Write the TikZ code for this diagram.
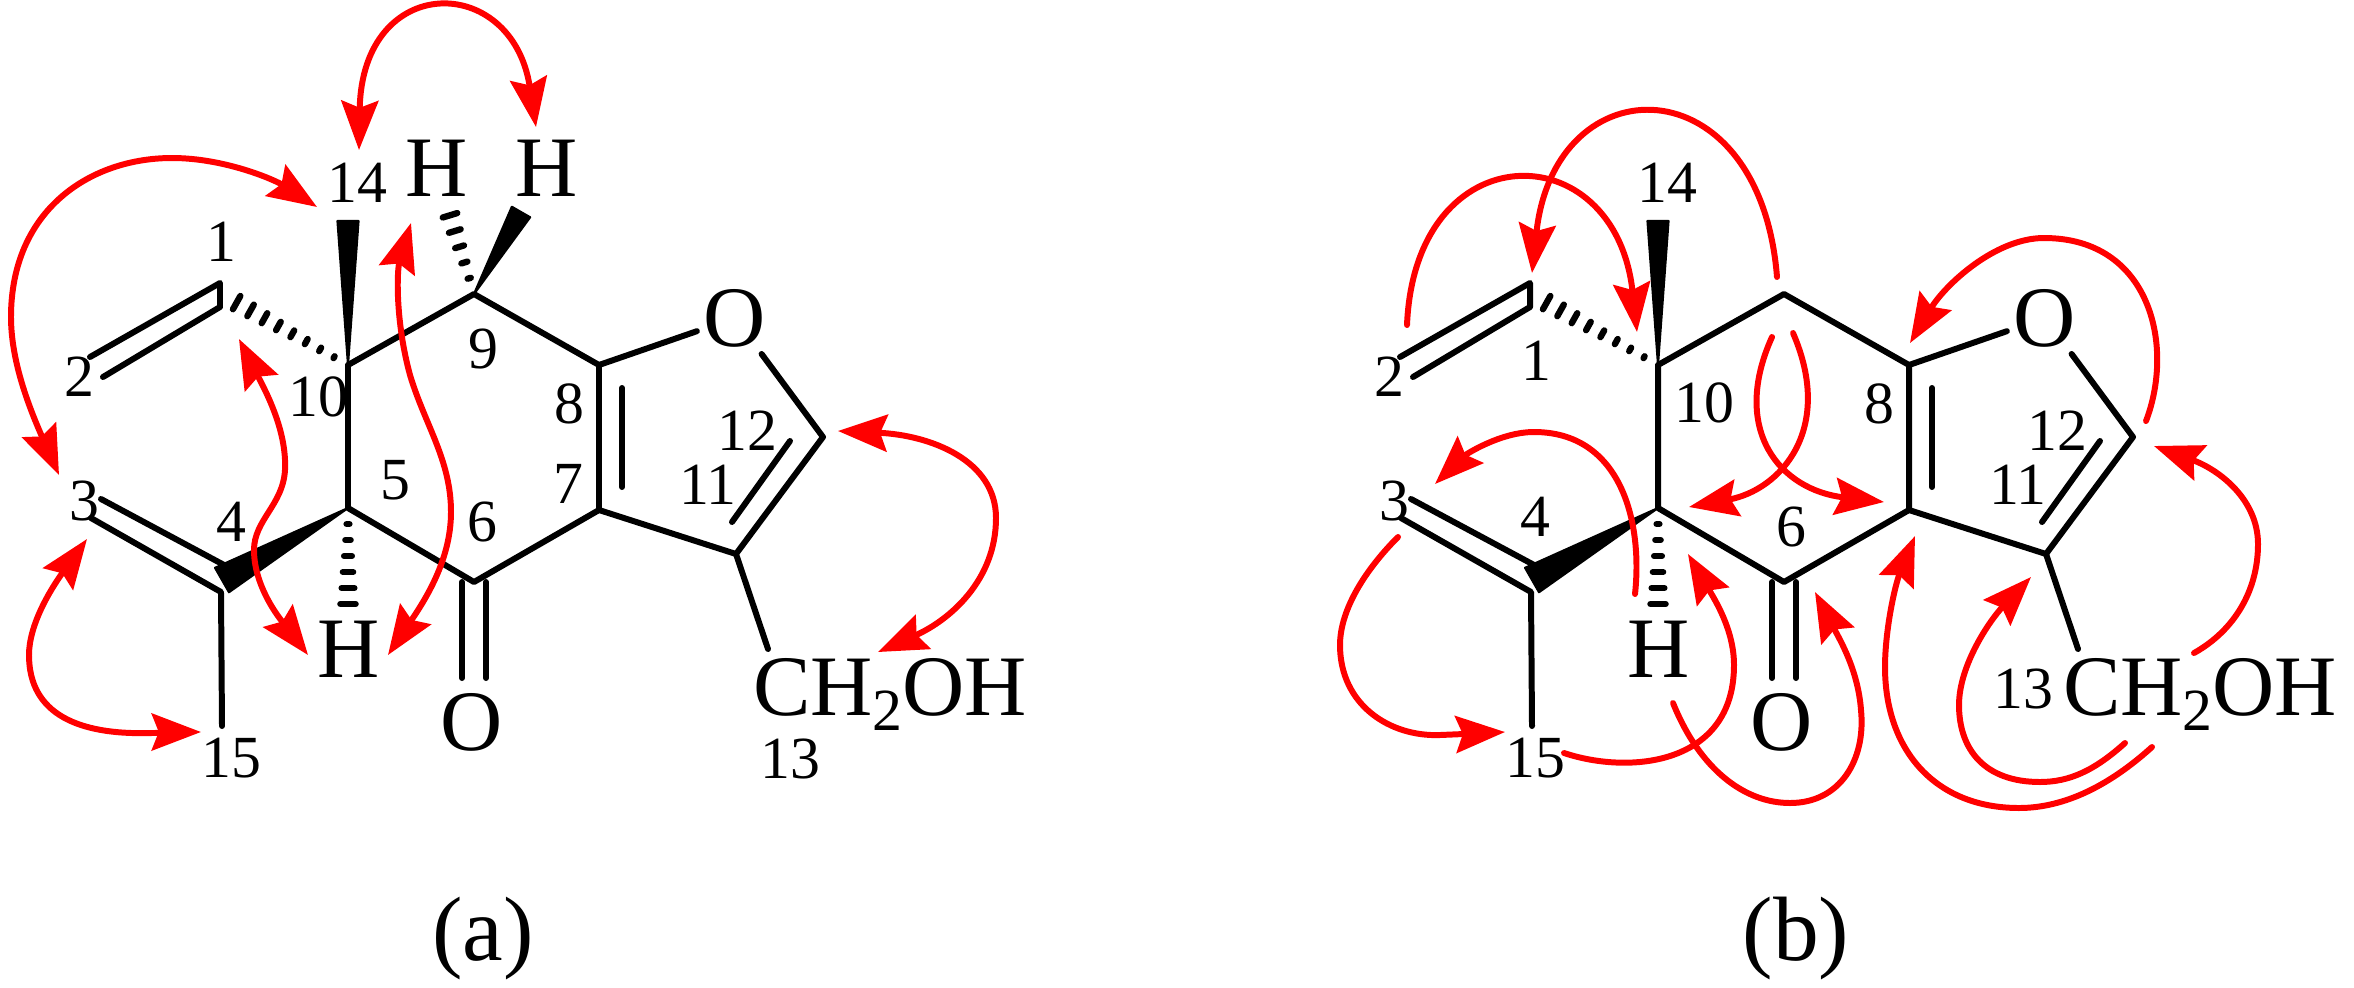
\documentclass[tikz,border=0pt]{standalone}
\usepackage{fontspec}
\setmainfont{Liberation Serif}
\usetikzlibrary{calc,arrows.meta}

\newcommand{\hashbond}[3]{\foreach \i in {1,...,#3} {
  \pgfmathsetmacro{\hpos}{0.96*\i/#3}
  \pgfmathsetmacro{\hlen}{0.05+2.2*\hpos}
  \draw[hashdash] ($(#1)!\hpos!(#2)!\hlen pt!90:(#2)$) -- ($(#1)!\hpos!(#2)!\hlen pt!-90:(#2)$);
}}
\newcommand{\wedgebond}[3]{\draw[wedgefill] (#1) -- ($(#2)!#3!90:(#1)$) -- ($(#2)!#3!-90:(#1)$) -- cycle;}

\begin{document}
\begin{tikzpicture}[x=0.01cm,y=-0.01cm,>={Stealth[length=14pt,width=10.5pt,inset=2pt]},
  bond/.style={line width=1.7pt,line cap=round,line join=round},
  hashdash/.style={line width=1.8pt,line cap=round},
  wedgefill/.style={fill=black,draw=black,line width=0.6pt,line join=round},
  atom/.style={inner sep=0pt,outer sep=2pt,font=\fontsize{24.5}{28}\selectfont},
  num/.style={inner sep=0pt,font=\fontsize{17}{20}\selectfont},
  tag/.style={inner sep=0pt,font=\fontsize{26}{30}\selectfont},
  noe/.style={draw=red,line width=1.7pt,line cap=round}]
\useasboundingbox (0,0) rectangle (2354,987);

\foreach \pn/\dx in {a/0,b/1310} {
\begin{scope}[xshift=\dx*0.01cm]
\coordinate (\pn1) at (220,283);
\coordinate (\pn1i) at (220,307);
\coordinate (\pn2) at (90,357);
\coordinate (\pn2i) at (103,377);
\coordinate (\pn3) at (91,518);
\coordinate (\pn3i) at (101,499);
\coordinate (\pn4) at (221,592);
\coordinate (\pn4i) at (226,566);
\coordinate (\pn5) at (348,508);
\coordinate (\pn6) at (474,582);
\coordinate (\pn7) at (599,510);
\coordinate (\pn8) at (599,365);
\coordinate (\pn7i) at (622,487);
\coordinate (\pn8i) at (622,388);
\coordinate (\pn9) at (474,294);
\coordinate (\pn10) at (348,365);
\coordinate (\pn11) at (736,554);
\coordinate (\pn11i) at (732,522);
\coordinate (\pn12) at (823,437);
\coordinate (\pn12i) at (790,441);
\coordinate (\pn13) at (768,649);
\coordinate (\pn14) at (348,221);
\coordinate (\pn15) at (222,726);
\coordinate (\pn60) at (474,678);
\coordinate (\pn1h) at (232,300);
\coordinate (\pn5h) at (348,608);
\coordinate (\pn4w) at (222,580);
\node[atom] (\pn O1) at (735,318) {O};
\node[atom] (\pn O6) at (472,722) {O};
\node[atom] (\pn H5) at (349,649) {H};
\node[atom,anchor=base west,outer sep=0pt] (\pn OH) at (753,715) {CH\raisebox{-4.3pt}{\fontsize{17}{20}\selectfont 2}OH};

\draw[bond] (\pn2) -- (\pn1) -- (\pn1i) (\pn2i) -- (\pn1i);
\draw[bond] (\pn10) -- (\pn9) -- (\pn8) -- (\pn7) -- (\pn6) -- (\pn5) -- (\pn10);
\draw[bond] (\pn3i) -- (\pn4i) (\pn3) -- (\pn4) -- (\pn15);
\draw[bond] (\pn8) -- (\pn O1) -- (\pn12) -- (\pn11) -- (\pn7);
\draw[bond] (\pn11) -- (\pn13);
\draw[bond] (\pn8i) -- (\pn7i);
\draw[bond] (\pn12i) -- (\pn11i);
\draw[bond] ([xshift=-3.4pt]\pn6) -- ([xshift=-3.4pt]\pn60);
\draw[bond] ([xshift=3.4pt]\pn6) -- ([xshift=3.4pt]\pn60);
\wedgebond{\pn10}{\pn14}{3pt}
\wedgebond{\pn5}{\pn4w}{4pt}
\hashbond{\pn10}{\pn1h}{8}
\hashbond{\pn5}{\pn5h}{6}
\node[num] (\pn n14) at (357,183) {14};
\node[num] (\pn n2) at (79,377) {2};
\node[num] (\pn n3) at (84,501) {3};
\node[num] (\pn n8) at (569,404) {8};
\node[num] (\pn n11) at (708,485) {11};
\node[num] (\pn n12) at (747,431) {12};
\end{scope}
}

\coordinate (aHa) at (449,212);
\coordinate (aHb) at (521,212);
\node[atom] (aH9a) at (437,168) {H};
\node[atom] (aH9b) at (547,168) {H};
\wedgebond{a9}{aHb}{3pt}
\hashbond{a9}{aHa}{5}

\node[num] (an1) at (221,242) {1};
\node[num] (an4) at (231,522) {4};
\node[num] (an5) at (395,480) {5};
\node[num] (an6) at (482,522) {6};
\node[num] (an7) at (568,484) {7};
\node[num] (an9) at (483,349) {9};
\node[num] (an10) at (318,397) {10};
\node[num] (an13) at (790,759) {13};
\node[num] (an15) at (231,758) {15};
\node[tag] (taga) at (483,938) {(a)};

\node[num] (bn1) at (1536,361) {1};
\node[num] (bn4) at (1535,517) {4};
\node[num] (bn6) at (1791,527) {6};
\node[num] (bn10) at (1704,403) {10};
\node[num] (bn13) at (2023,689) {13};
\node[num] (bn15) at (1535,758) {15};
\node[tag] (tagb) at (1796,938) {(b)};

\coordinate (ra1) at (359,150);
\coordinate (ra2) at (536,127);
\draw[noe,<->] (ra1) .. controls (362,-28) and (512,-28) .. (ra2);
\coordinate (ra3) at (59,475);
\coordinate (ra4) at (317,207);
\draw[noe,<->] (ra3) .. controls (28,405) and (11,360) .. (11,317) .. controls (11,210) and (90,158) .. (172,158) .. controls (225,158) and (275,180) .. (ra4);
\coordinate (ra5) at (239,339);
\coordinate (ra6) at (308,655);
\draw[noe,<->] (ra5) .. controls (265,390) and (287,430) .. (285,470) .. controls (283,505) and (254,520) .. (254,550) .. controls (254,590) and (285,625) .. (ra6);
\coordinate (ra7) at (411,223);
\coordinate (ra8) at (388,655);
\draw[noe,<->] (ra7) .. controls (397,270) and (395,320) .. (410,375) .. controls (425,425) and (451,460) .. (451,512) .. controls (451,560) and (425,600) .. (ra8);
\coordinate (ra9) at (87,539);
\coordinate (ra10) at (201,732);
\draw[noe,<->] (ra9) .. controls (50,590) and (29,625) .. (29,655) .. controls (29,715) and (80,735) .. (150,733) .. controls (170,733) and (185,732) .. (ra10);
\coordinate (ra11) at (838,431);
\coordinate (ra12) at (878,652);
\draw[noe,<->] (ra11) .. controls (930,435) and (996,460) .. (996,518) .. controls (996,580) and (950,620) .. (ra12);

\coordinate (rb1) at (1777,277);
\coordinate (rb2) at (1532,273);
\draw[noe,->] (rb1) .. controls (1760,62) and (1555,62) .. (rb2);
\coordinate (rb3) at (1407,325);
\coordinate (rb4) at (1637,332);
\draw[noe,->] (rb3) .. controls (1415,132) and (1615,132) .. (rb4);
\coordinate (rb5) at (1635,594);
\coordinate (rb6) at (1435,484);
\draw[noe,->] (rb5) .. controls (1643,520) and (1620,432) .. (1534,432) .. controls (1500,432) and (1465,455) .. (rb6);
\coordinate (rb7) at (1398,537);
\coordinate (rb8) at (1505,732);
\draw[noe,->] (rb7) .. controls (1365,570) and (1340,610) .. (1340,645) .. controls (1340,705) and (1390,737) .. (1440,735) .. controls (1465,734) and (1485,733) .. (rb8);
\coordinate (rb9) at (1564,753);
\coordinate (rb10) at (1688,554);
\draw[noe,->] (rb9) .. controls (1630,775) and (1734,765) .. (1734,665) .. controls (1734,630) and (1715,600) .. (rb10);
\coordinate (rb11) at (1673,703);
\coordinate (rb12) at (1815,592);
\draw[noe,->] (rb11) .. controls (1700,770) and (1745,803) .. (1790,803) .. controls (1840,803) and (1866,760) .. (1861,710) .. controls (1858,670) and (1840,640) .. (rb12);
\coordinate (rb13) at (1772,337);
\coordinate (rb14) at (1884,502);
\draw[noe,->] (rb13) .. controls (1730,430) and (1780,490) .. (rb14);
\coordinate (rb15) at (1793,333);
\coordinate (rb16) at (1689,507);
\draw[noe,->] (rb15) .. controls (1835,430) and (1780,490) .. (rb16);
\coordinate (rb17) at (2146,421);
\coordinate (rb18) at (1910,343);
\draw[noe,->] (rb17) .. controls (2175,345) and (2150,238) .. (2044,238) .. controls (1995,238) and (1945,285) .. (rb18);
\coordinate (rb19) at (2194,653);
\coordinate (rb20) at (2154,446);
\draw[noe,->] (rb19) .. controls (2235,630) and (2258,590) .. (2258,544) .. controls (2258,500) and (2220,470) .. (rb20);
\coordinate (rb21) at (2125,743);
\coordinate (rb22) at (2031,577);
\draw[noe,->] (rb21) .. controls (2095,770) and (2070,782) .. (2040,782) .. controls (1985,782) and (1959,750) .. (1959,705) .. controls (1959,665) and (1990,620) .. (rb22);
\coordinate (rb23) at (2152,747);
\coordinate (rb24) at (1915,536);
\draw[noe,->] (rb23) .. controls (2110,785) and (2065,808) .. (2019,808) .. controls (1935,808) and (1885,750) .. (1885,667) .. controls (1885,630) and (1895,585) .. (rb24);
\end{tikzpicture}
\end{document}
